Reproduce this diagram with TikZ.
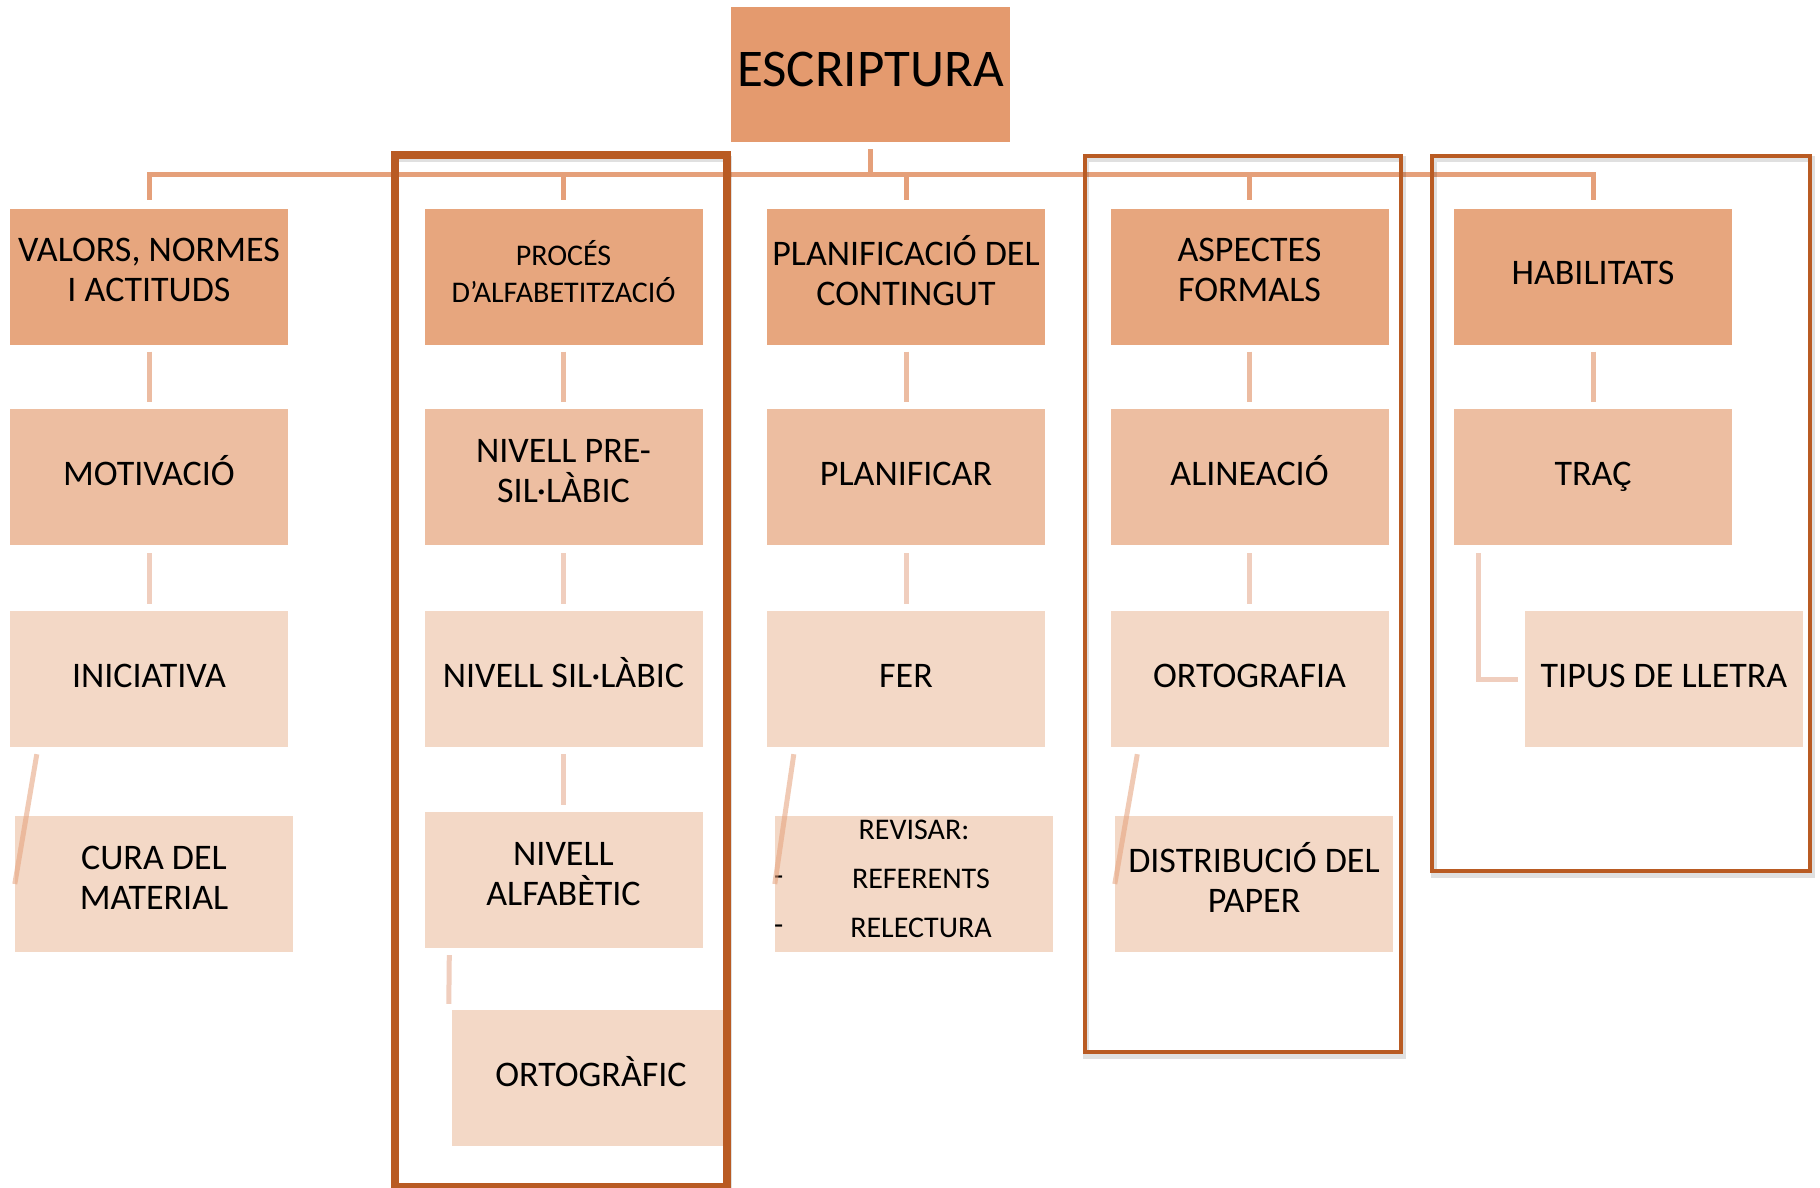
\documentclass[tikz,border=0pt]{standalone}
\usepackage{fontspec}
\setmainfont{Carlito}
\usepackage{tikz}
\usepackage{xcolor}
\definecolor{escorange}{RGB}{228,154,110}
\definecolor{lvlone}{RGB}{231,166,126}
\definecolor{lvltwo}{RGB}{237,190,161}
\definecolor{lvlthree}{RGB}{243,216,198}
\definecolor{framebrown}{RGB}{185,91,35}
\definecolor{connone}{RGB}{229,160,122}
\definecolor{conntwo}{RGB}{236,188,162}
\definecolor{connthree}{RGB}{240,206,190}
\usetikzlibrary{positioning,calc}
\tikzset{
  strutted/.style={execute at begin node={\rule{0pt}{0.8em}},execute at end node={\rule[-0.35em]{0pt}{0.35em}}},
  topbox/.style={strutted,fill=escorange,minimum width=279pt,minimum height=135pt,inner sep=0pt,align=center,font=\fontsize{53}{60}\selectfont},
  box/.style={strutted,fill=lvlone,minimum width=278pt,minimum height=136pt,inner sep=0pt,align=center,font=\fontsize{36}{40}\selectfont},
  boxtwo/.style={box,fill=lvltwo},
  boxthree/.style={box,fill=lvlthree},
  lab/.style={inner sep=0pt,font=\fontsize{30}{49}\selectfont},
  line/.style={line width=5pt,draw=connone},
  linetwo/.style={line width=5pt,draw=conntwo},
  linethree/.style={line width=5pt,draw=connthree},
  slant/.style={line width=5pt,draw=connone,draw opacity=0.55},
  frame/.style={draw=framebrown,line width=4pt},
  frameshadow/.style={draw=black,draw opacity=0.12,line width=6pt},
}

\begin{document}
\begin{tikzpicture}[x=1pt,y=-1pt]
  \useasboundingbox[fill=white] (0,0) rectangle (1820,1187);
  % top
  \node[topbox] (esc) at (870.5,74.5) {ESCRIPTURA};
  % first row
  \node[box] (valors) at (149,276.5) {VALORS, NORMES\\I ACTITUDS};
  \node[box,font=\fontsize{30}{37}\selectfont] (proces) at (563.5,276.5) {PROCÉS\\D’ALFABETITZACIÓ};
  \node[box] (planif) at (906,276.5) {PLANIFICACIÓ DEL\\CONTINGUT};
  \node[box] (aspectes) at (1249.5,276.5) {ASPECTES\\FORMALS};
  \node[box] (habil) at (1593,276.5) {HABILITATS};
  % second row
  \node[boxtwo] (motiv) at (149,477) {MOTIVACIÓ};
  \node[boxtwo] (nivpre) at (563.5,477) {NIVELL PRE-\\SIL·LÀBIC};
  \node[boxtwo] (planificar) at (906,477) {PLANIFICAR};
  \node[boxtwo] (alineacio) at (1249.5,477) {ALINEACIÓ};
  \node[boxtwo] (trac) at (1593,477) {TRAÇ};
  % third row
  \node[boxthree] (inicia) at (149,679) {INICIATIVA};
  \node[boxthree] (nivsil) at (563.5,679) {NIVELL SIL·LÀBIC};
  \node[boxthree] (fer) at (906,679) {FER};
  \node[boxthree] (ortografia) at (1249.5,679) {ORTOGRAFIA};
  \node[boxthree] (tipus) at (1664,679) {TIPUS DE LLETRA};
  % fourth row
  \node[boxthree] (cura) at (154,884) {CURA DEL\\MATERIAL};
  \node[boxthree] (nivalf) at (563.5,880) {NIVELL\\ALFABÈTIC};
  \node[boxthree,font=\fontsize{30}{49}\selectfont] (revisar) at (914,884) {REVISAR:\\\hspace*{14pt}REFERENTS\\\hspace*{14pt}RELECTURA};
  \node[lab,anchor=west] (dashone) at ($(revisar.west)+(-1,-3)$) {-};
  \node[lab,anchor=west] (dashtwo) at ($(revisar.west)+(-1,46)$) {-};
  \node[boxthree] (distrib) at (1254,884) {DISTRIBUCIÓ DEL\\PAPER};
  \node[boxthree] (ortografic) at (591,1078) {ORTOGRÀFIC};

  % connectors
  \draw[line] ($(esc.south)+(0,7)$) -- ($(esc.south)+(0,32)$);
  \foreach \c in {valors,proces,planif,aspectes,habil}
    \draw[line] ($(esc.south)+(0,32)$) -| ($(\c.north)+(0,-8)$);
  \foreach \a/\b in {valors/motiv,proces/nivpre,planif/planificar,aspectes/alineacio,habil/trac}
    \draw[linetwo] ($(\a.south)+(0,7)$) -- ($(\b.north)+(0,-7)$);
  \foreach \a/\b in {motiv/inicia,nivpre/nivsil,planificar/fer,alineacio/ortografia}
    \draw[linethree] ($(\a.south)+(0,8)$) -- ($(\b.north)+(0,-7)$);
  \draw[linethree] ($(nivsil.south)+(0,7)$) -- ($(nivalf.north)+(0,-7)$);
  \draw[linethree] ($(nivalf.south west)+(25,7)$) -- ($(ortografic.north west)+(-3,-6)$);
  \draw[linethree] ($(trac.south west)+(25,8)$) |- ($(tipus.west)+(-7,0)$);
  \foreach \a/\b in {inicia/cura,fer/revisar,ortografia/distrib}
    \draw[slant] ($(\a.south west)+(27,7)$) -- (\b.west);

  % frames
  \draw[frameshadow] (396,159) rectangle (729,1191);
  \draw[frame,line width=8pt] (394.5,155) rectangle (727,1187);
  \draw[frameshadow] (1086,159) rectangle (1403,1056);
  \draw[frame] (1084.5,155.5) rectangle (1401,1052);
  \draw[frameshadow] (1434,159) rectangle (1812,875);
  \draw[frame] (1432,155.5) rectangle (1810,871);
\end{tikzpicture}
\end{document}
